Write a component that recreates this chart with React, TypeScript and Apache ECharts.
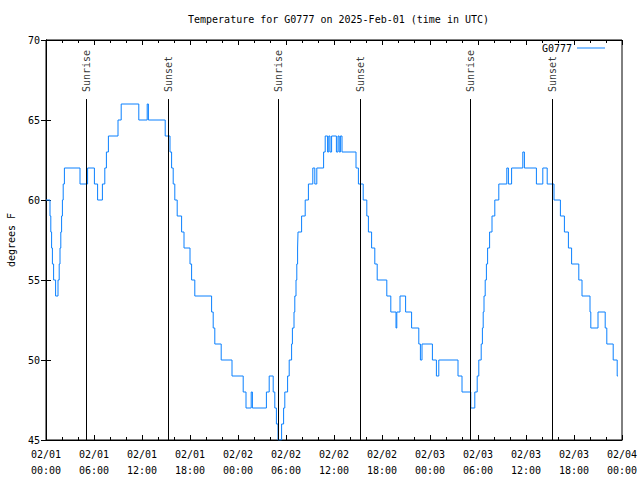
import React, { useEffect, useRef } from "react";
import * as echarts from "echarts";

// Hours since 2025-02-01 00:00 UTC at which the reading changes, and the new reading (deg F)
const hours = [
  0, 0.5, 0.6, 0.7, 0.8, 0.95, 1.2, 1.5, 1.65, 1.75, 1.85, 1.95, 2.05, 2.15, 2.3, 4.25, 5.2, 6.05, 6.45, 7.05,
  7.35, 7.55, 7.8, 9.0, 9.4, 11.6, 12.65, 12.8, 14.9, 15.5, 15.7, 15.9, 16.1, 16.4, 16.95, 17.25, 18.0, 18.2, 18.6,
  20.7, 20.9, 21.1, 21.9, 23.25, 24.65, 25.0, 25.65, 25.8, 27.55, 27.9, 28.4, 28.6, 28.8, 29.0, 29.45, 29.7, 29.85,
  30.2, 30.4, 30.7, 30.8, 31.0, 31.1, 31.25, 31.35, 31.45, 31.5, 31.95, 32.4, 32.8, 33.35, 33.6, 33.85, 34.7, 34.9,
  35.2, 35.35, 35.5, 35.7, 36.3, 36.5, 36.65, 36.8, 37.0, 38.75, 39.05, 39.65, 40.1, 40.3, 40.7, 41.1, 41.4, 42.6,
  43.1, 43.75, 43.85, 44.25, 44.95, 45.7, 46.6, 46.8, 47.0, 48.3, 48.8, 49.1, 51.5, 52.0, 53.1, 53.6, 53.9, 54.1,
  54.4, 54.55, 54.65, 54.75, 54.9, 55.05, 55.2, 55.45, 55.75, 56.1, 56.6, 57.6, 57.8, 58.2, 59.6, 59.8, 61.3, 62.1,
  62.65, 63.5, 64.3, 64.8, 65.3, 65.7, 66.6, 67.0, 68.0, 68.1, 69.0, 69.9, 70.1, 70.9, 71.4, 71.5,
];
const tempsF = [
  60, 59, 58, 57, 56, 55, 54, 55, 56, 57, 58, 59, 60, 61, 62, 61, 62, 61, 60, 61,
  62, 63, 64, 65, 66, 65, 66, 65, 64, 63, 62, 61, 60, 59, 58, 57, 56, 55, 54,
  53, 52, 51, 50, 49, 48, 47, 48, 47, 48, 49, 48, 47, 46, 45, 46, 47, 48,
  49, 50, 51, 52, 53, 54, 55, 56, 57, 58, 59, 60, 61, 62, 61, 62, 63, 64,
  63, 64, 63, 64, 63, 64, 63, 64, 63, 62, 61, 60, 59, 58, 57, 56, 55, 54,
  53, 52, 53, 54, 53, 52, 51, 50, 51, 50, 49, 50, 49, 48, 47, 48, 49, 50,
  51, 52, 53, 54, 55, 56, 57, 58, 59, 60, 61, 62, 61, 62, 63, 62, 61, 62,
  61, 60, 59, 58, 57, 56, 55, 54, 53, 52, 53, 52, 51, 50, 49, 49,
];

const sunHours = [5, 15.25, 29, 39.25, 53, 63.25];
const sunLabels = ["Sunrise", "Sunset", "Sunrise", "Sunset", "Sunrise", "Sunset"];

const xTickLabels = [
  "02/01\n00:00", "02/01\n06:00", "02/01\n12:00", "02/01\n18:00",
  "02/02\n00:00", "02/02\n06:00", "02/02\n12:00", "02/02\n18:00",
  "02/03\n00:00", "02/03\n06:00", "02/03\n12:00", "02/03\n18:00",
  "02/04\n00:00",
];

const seriesName = "G0777";
const titleText = "Temperature for G0777 on 2025-Feb-01 (time in UTC)";
const yName = "degrees F";

const MONO = "'DejaVu Sans Mono', monospace";

export default function App() {
  const ref = useRef<HTMLDivElement>(null);
  useEffect(() => {
    if (!ref.current) return;
    const chart = echarts.init(ref.current, null, { renderer: "svg" });
    const data = hours.map((h, i) => [h, tempsF[i]]);
    const lineTop = 66.31;
    const labelBase = 66.75;
    const tickStyle = { color: "#000", width: 1 };
    const lineColor = "#0a80ff";
    chart.setOption({
      animation: false,
      backgroundColor: "#fff",
      title: {
        text: titleText,
        left: 183,
        top: 9,
        textStyle: { fontFamily: MONO, fontSize: 10, fontWeight: "normal", color: "#000" },
      },
      legend: {
        data: [{ name: seriesName, icon: "rect", itemStyle: { color: lineColor } }],
        right: 30,
        top: 38,
        align: "right",
        itemWidth: 28,
        itemHeight: 1,
        itemGap: 5,
        textStyle: { fontFamily: MONO, fontSize: 10, color: "#000" },
      },
      grid: {
        left: 46,
        right: 18,
        top: 40,
        bottom: 40,
        containLabel: false,
        outerBoundsMode: "none",
        show: true,
        borderColor: "#000",
        borderWidth: 1,
        backgroundColor: "#fff",
      },
      xAxis: [
        {
          type: "value",
          min: 0,
          max: 72,
          interval: 6,
          position: "bottom",
          axisLine: { show: true, lineStyle: { color: "#000", width: 1 } },
          axisTick: { show: true, inside: true, length: 5, lineStyle: tickStyle },
          minorTick: { show: true, splitNumber: 3, length: 3, lineStyle: tickStyle },
          splitLine: { show: false },
          axisLabel: {
            fontFamily: MONO,
            fontSize: 10,
            color: "#000",
            lineHeight: 16,
            margin: 6,
            formatter: (v: number) => xTickLabels[Math.round(v / 6)] ?? "",
          },
        },
        {
          type: "value",
          min: 0,
          max: 72,
          interval: 6,
          position: "top",
          axisLine: { show: true, lineStyle: { color: "#000", width: 1 } },
          axisTick: { show: true, inside: true, length: 5, lineStyle: tickStyle },
          minorTick: { show: true, splitNumber: 3, length: 3, lineStyle: tickStyle },
          splitLine: { show: false },
          axisLabel: { show: false },
        },
      ],
      yAxis: [
        {
          type: "value",
          min: 45,
          max: 70,
          interval: 5,
          position: "left",
          name: yName,
          nameLocation: "middle",
          nameRotate: 90,
          nameGap: 30,
          nameTextStyle: { fontFamily: MONO, fontSize: 10, color: "#000" },
          axisLine: { show: true, lineStyle: { color: "#000", width: 1 } },
          axisTick: { show: true, inside: true, length: 5, lineStyle: tickStyle },
          splitLine: { show: false },
          axisLabel: { fontFamily: MONO, fontSize: 10, color: "#000", margin: 6 },
        },
        {
          type: "value",
          min: 45,
          max: 70,
          interval: 5,
          position: "right",
          axisLine: { show: true, lineStyle: { color: "#000", width: 1 } },
          axisTick: { show: true, inside: true, length: 5, lineStyle: tickStyle },
          splitLine: { show: false },
          axisLabel: { show: false },
        },
      ],
      series: [
        {
          name: seriesName,
          type: "line",
          step: "end",
          data,
          symbol: "none",
          showSymbol: false,
          lineStyle: { color: lineColor, width: 1 },
          itemStyle: { color: lineColor },
          z: 3,
          markLine: {
            silent: true,
            symbol: ["none", "none"],
            label: { show: false },
            lineStyle: { color: "#000", width: 1, type: "solid" },
            data: sunHours.map((h) => [{ coord: [h, 45] }, { coord: [h, lineTop] }]),
          },
        },
        {
          name: "sunLabels",
          type: "scatter",
          data: sunHours.map((h) => [h, labelBase]),
          symbolSize: 0,
          silent: true,
          label: {
            show: true,
            position: "inside",
            rotate: 90,
            align: "left",
            verticalAlign: "middle",
            fontFamily: MONO,
            fontSize: 10,
            color: "#000",
            formatter: (p: any) => sunLabels[p.dataIndex],
          },
        },
      ],
    });
    return () => chart.dispose();
  }, []);
  return (
    <div
      ref={ref}
      style={{ position: "fixed", left: 0, top: 0, width: 640, height: 480, background: "#fff" }}
    />
  );
}
